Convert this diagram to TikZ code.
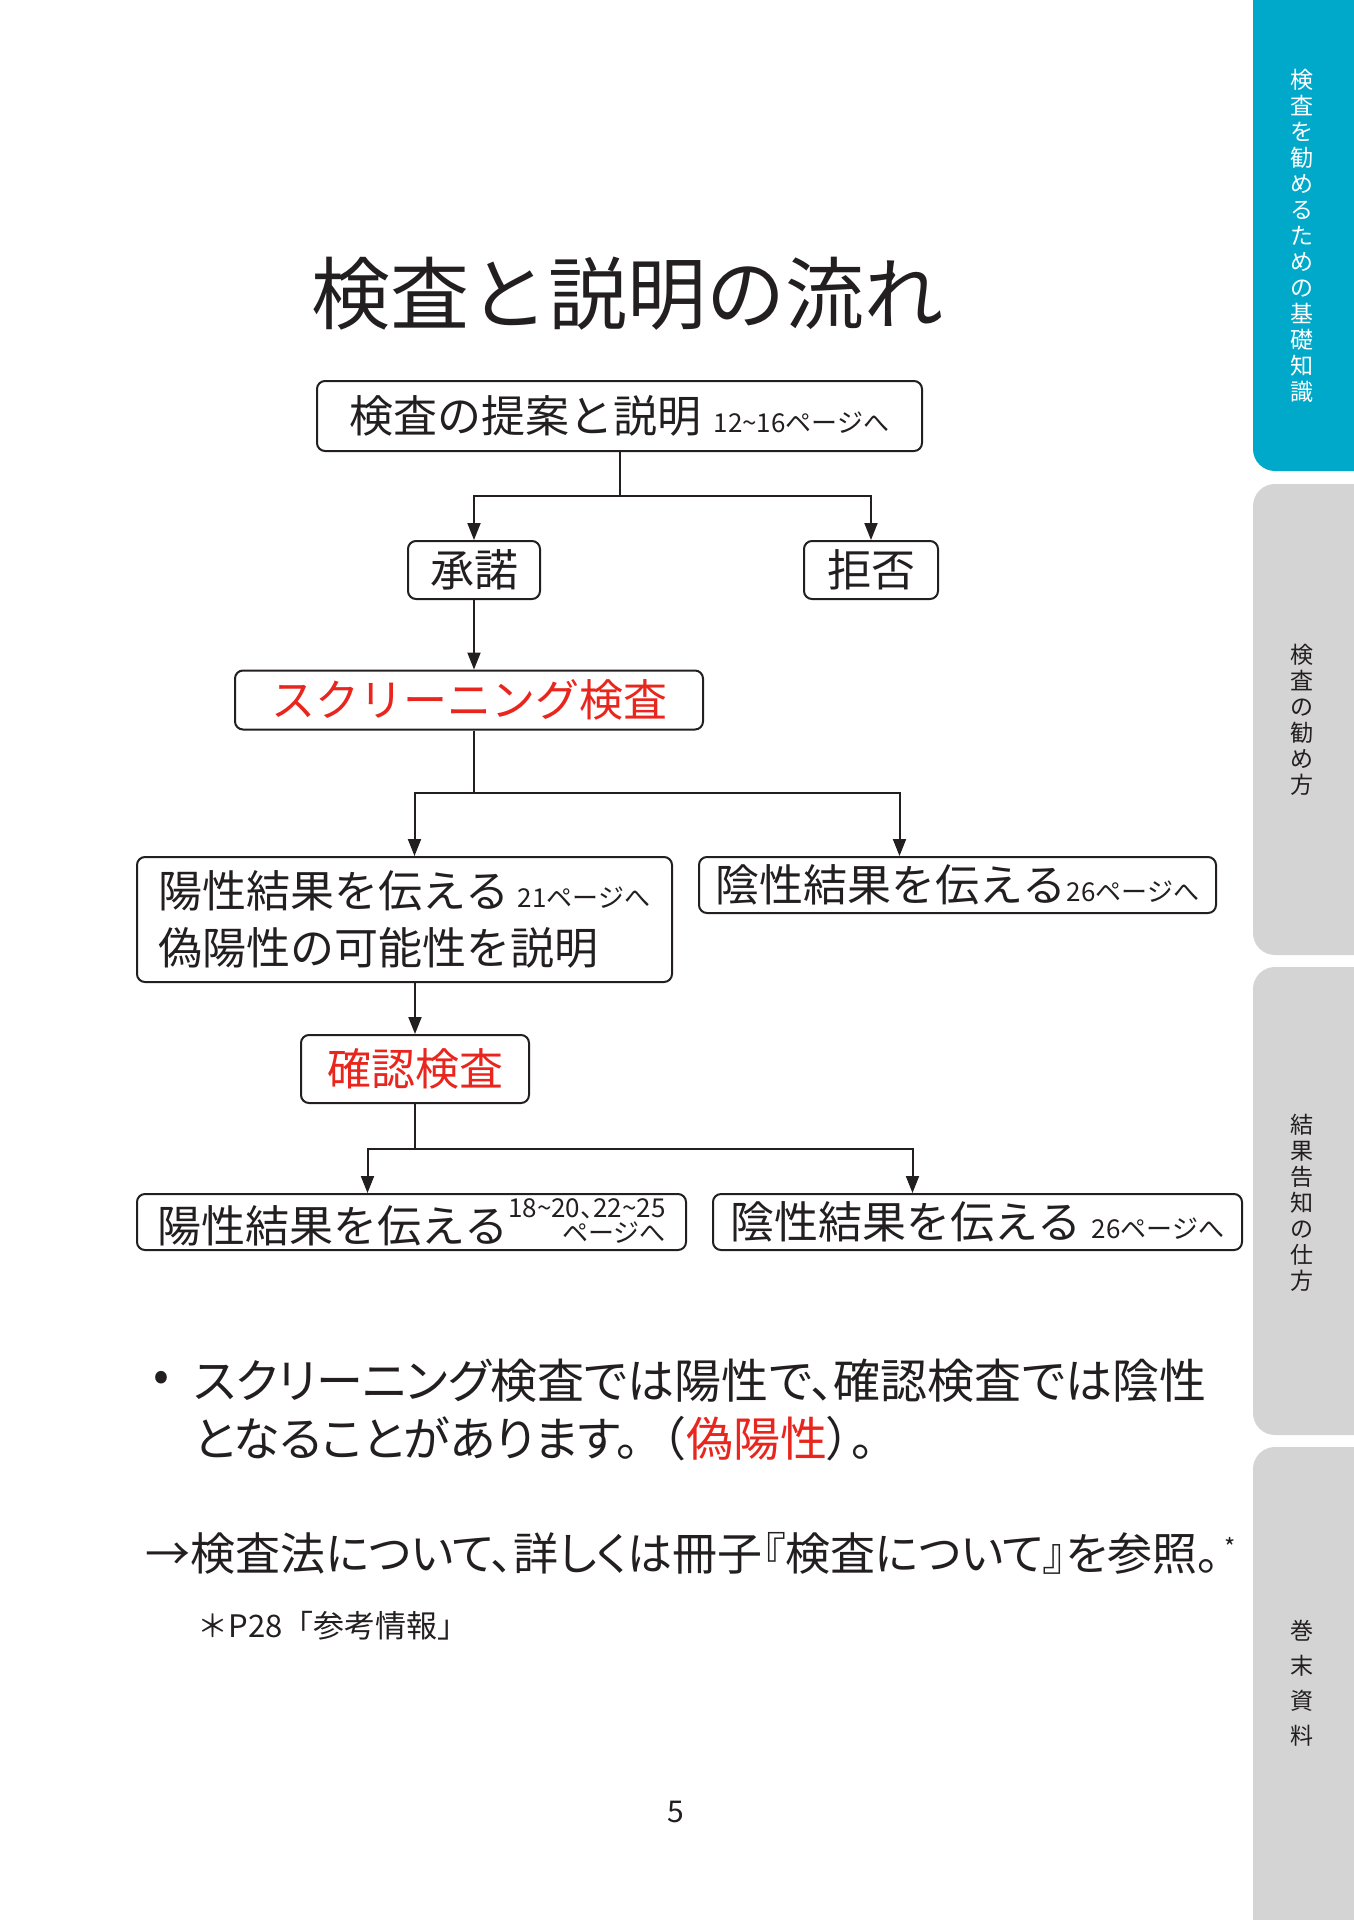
\documentclass[tikz,border=0pt]{standalone}
\usepackage{fontspec}
\setmainfont{Noto Sans CJK JP}
\newfontfamily\propfont{Noto Sans CJK JP}[RawFeature=+palt]
\usetikzlibrary{arrows.meta,positioning}
\definecolor{tabteal}{HTML}{00A8C9}
\definecolor{tabgray}{HTML}{D4D4D4}
\definecolor{alertred}{HTML}{E8261E}
\definecolor{inkgray}{HTML}{231F20}
\newcommand{\flowsize}{\fontsize{44}{57}\selectfont}
\newcommand{\pagesmall}{\fontsize{26}{26}\selectfont}
\newcommand{\notesize}{\fontsize{47}{58}\selectfont}
\newcommand{\sidetabsize}{\fontsize{23}{26}\selectfont}

\begin{document}
\begin{tikzpicture}[
    x=1pt,
    y=-1pt,
    flowbox/.style={draw=inkgray, rounded corners=8pt, line width=2pt, inner sep=0pt, font=\flowsize, text=inkgray},
    link/.style={-{Triangle[length=17pt,width=13pt]}, line width=2pt, draw=inkgray},
    sidetab/.style={rounded corners=22pt},
    tablabel/.style={font=\sidetabsize, align=center, text=inkgray}
  ]
    \useasboundingbox (0,0) rectangle (1353,1920);

    \fill[tabteal, sidetab] (1253,-40) rectangle (1400,471);
    \fill[tabgray, sidetab] (1253,484) rectangle (1400,955);
    \fill[tabgray, sidetab] (1253,967) rectangle (1400,1435);
    \fill[tabgray, sidetab] (1253,1447) rectangle (1400,1960);
    \node[tablabel, text=white] (tabbasic) at (1302,236) {検\\査\\を\\勧\\め\\る\\た\\め\\の\\基\\礎\\知\\識};
    \node[tablabel] (tabadvise) at (1302,720) {検\\査\\の\\勧\\め\\方};
    \node[tablabel] (tabresult) at (1302,1203) {結\\果\\告\\知\\の\\仕\\方};
    \node[tablabel, font=\fontsize{23}{35}\selectfont] (tabappendix) at (1302,1683) {巻\\末\\資\\料};

    \node[font=\fontsize{79}{79}\selectfont, text=inkgray] (title) at (627,294) {検査と説明の流れ};

    \node[flowbox, minimum width=605pt, minimum height=70pt] (propose) at (619.5,416) {検査の提案と説明\hspace{12pt}{\pagesmall 12\textasciitilde16ページへ}};
    \node[flowbox, minimum width=132pt, minimum height=58pt] (accept) at (474,570) {承諾};
    \node[flowbox, minimum width=134pt, minimum height=58pt] (reject) at (871,570) {拒否};
    \node[flowbox, minimum width=468pt, minimum height=59pt, text=alertred] (screen) at (469,700) {スクリーニング検査};
    \node[flowbox, minimum width=535pt, minimum height=125pt, align=left] (posfirst) at (404.5,919.5) {陽性結果を伝える\hspace{8pt}{\pagesmall 21ページへ}\\偽陽性の可能性を説明};
    \node[flowbox, minimum width=517pt, minimum height=56pt] (negfirst) at (957.5,885) {陰性結果を伝える{\pagesmall 26ページへ}};
    \node[flowbox, minimum width=228pt, minimum height=68pt, text=alertred] (confirm) at (415,1069) {確認検査};
    \node[flowbox, minimum width=549pt, minimum height=56pt] (possecond) at (411.5,1222) {陽性結果を伝える{\fontsize{26}{24}\selectfont\propfont\shortstack[r]{18\textasciitilde20、22\textasciitilde25\\ページへ}}};
    \node[flowbox, minimum width=529pt, minimum height=56pt] (negsecond) at (977.5,1222) {陰性結果を伝える\hspace{10pt}{\pagesmall 26ページへ}};

    \draw[link] (propose.south) -- ++(0,44) -| (accept.north);
    \draw[link] (propose.south) -- ++(0,44) -| (reject.north);
    \draw[link] (accept.south) -- (accept.south |- screen.north);
    \draw[link] (screen.south -| accept.south) -- ++(0,62) -| ([xshift=10pt]posfirst.north);
    \draw[link] (screen.south -| accept.south) -- ++(0,62) -| ([xshift=-58pt]negfirst.north);
    \draw[link] (posfirst.south -| confirm.north) -- (confirm.north);
    \draw[link] (confirm.south) -- ++(0,45) -| ([xshift=-44pt]possecond.north);
    \draw[link] (confirm.south) -- ++(0,45) -| ([xshift=-65pt]negsecond.north);

    \node[font=\notesize, anchor=west, text=inkgray] (bullet) at (150,1381) {•};
    \node[font=\notesize\propfont, anchor=west, align=left, text=inkgray] (note) at (190,1410) {スクリーニング検査では陽性で、確認検査では陰性\\となることがあります。{\rmfamily （}\textcolor{alertred}{偽陽性}）。};
    \node[font=\fontsize{45}{58}\selectfont\propfont, anchor=west, text=inkgray] (seealso) at (142,1553) {→検査法について、詳しくは冊子『検査について』を参照。\hspace{5pt}\raisebox{14pt}{\fontsize{24}{24}\selectfont *}};
    \node[font=\fontsize{31}{31}\selectfont, anchor=west, text=inkgray] (footref) at (194,1626) {＊P28「参考情報」};
    \node[font=\fontsize{30}{30}\selectfont, text=inkgray] (pagenum) at (676,1812) {5};
  \end{tikzpicture}
\end{document}
